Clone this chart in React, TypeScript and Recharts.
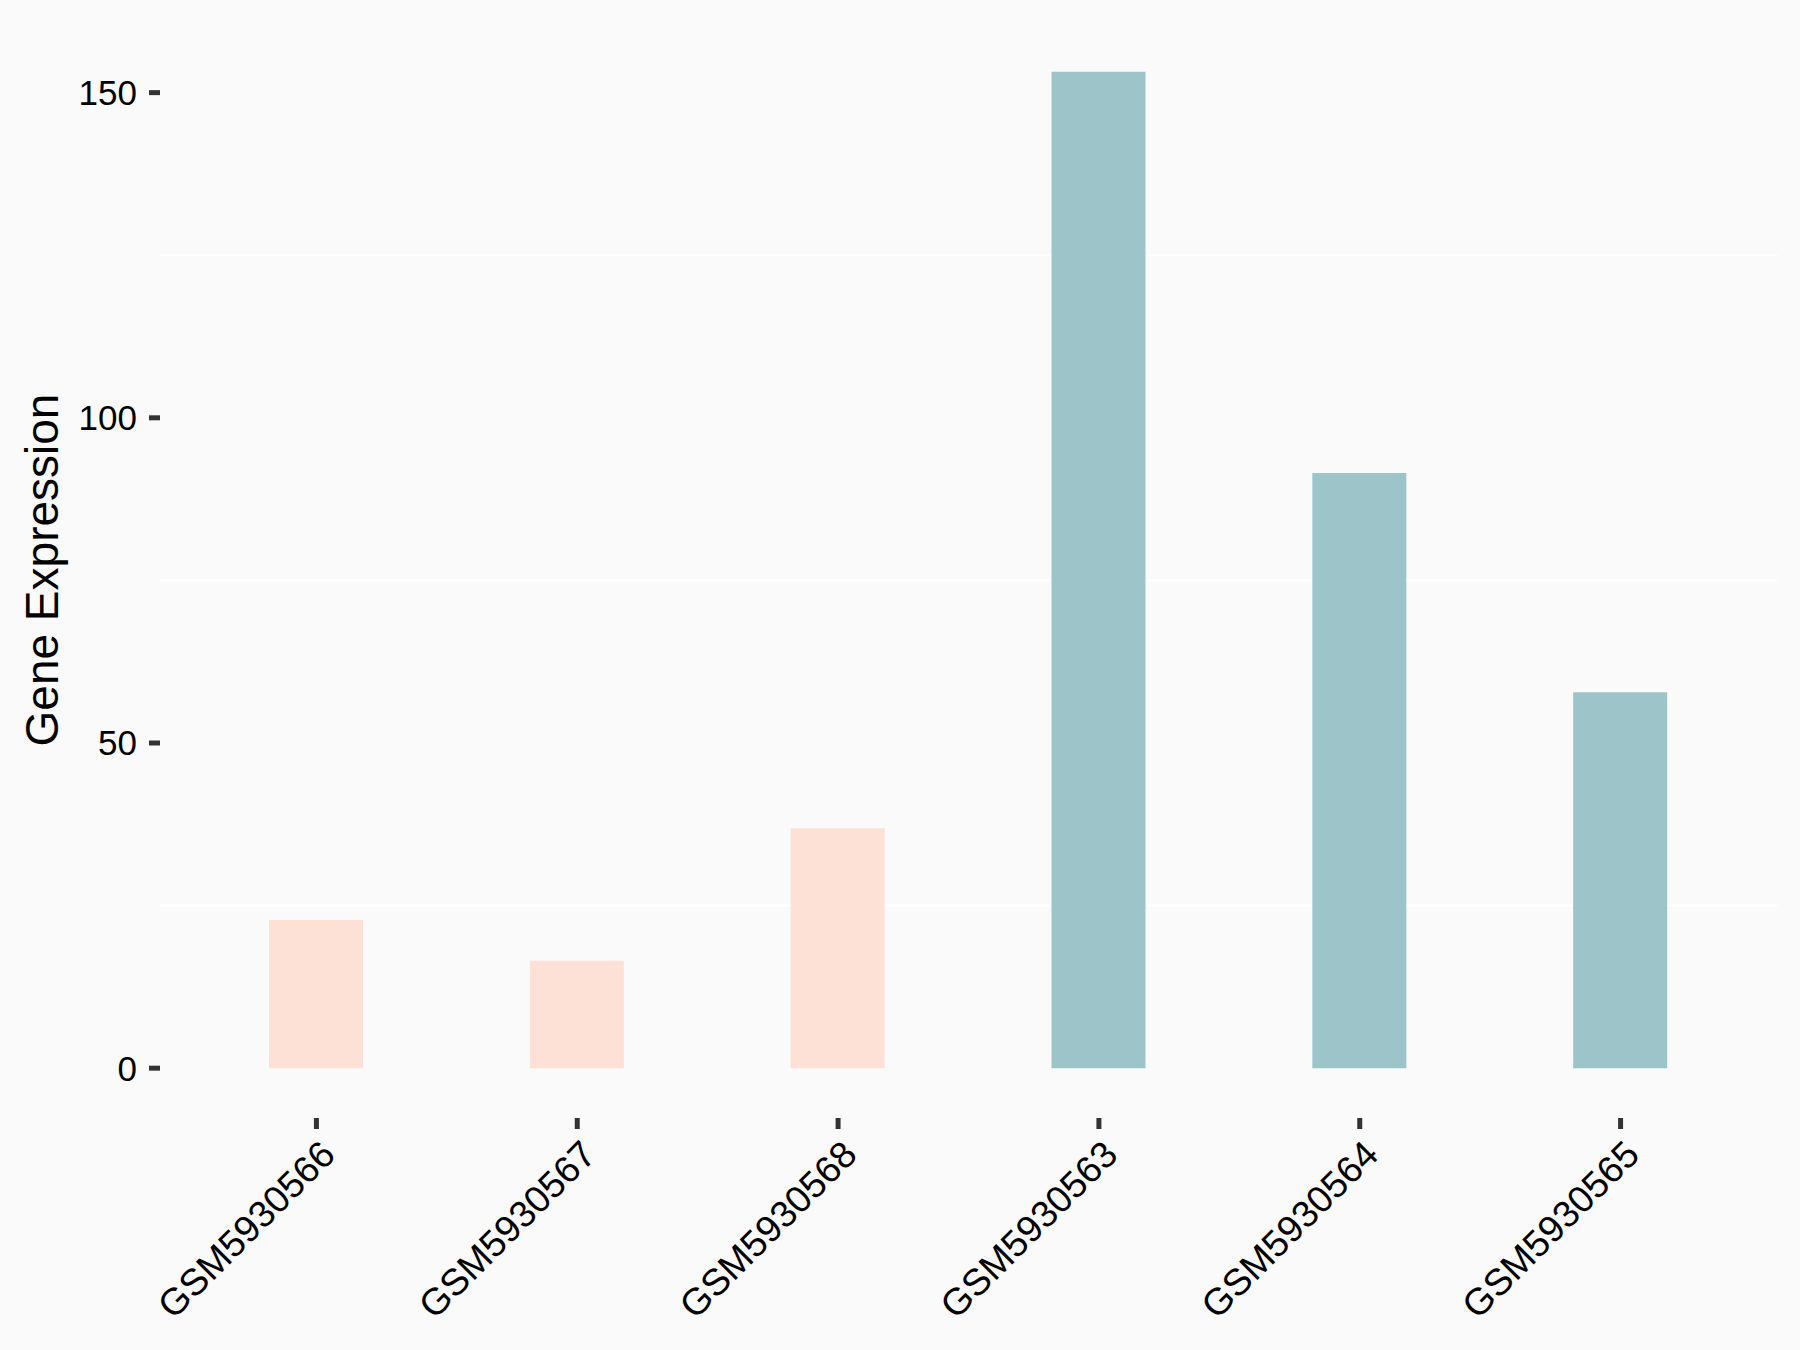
import { BarChart, Bar, XAxis, YAxis, Cell, CartesianGrid } from "recharts";

const samples = ["GSM5930566", "GSM5930567", "GSM5930568", "GSM5930563", "GSM5930564", "GSM5930565"];
const expression = [22.8, 16.5, 36.9, 153.2, 91.5, 57.8];
const groups = ["a", "a", "a", "b", "b", "b"];
const yTicks = [0, 50, 100, 150];
const minorGrid = [25, 75, 125];

const groupColors: Record<string, string> = { a: "#FDE1D7", b: "#9DC4C8" };
const FONT = "'Liberation Sans', Arial, sans-serif";

const data = samples.map((s, i) => ({ sample: s, value: expression[i], group: groups[i] }));

function XTick(props: any) {
  const { x, y, payload } = props;
  return (
    <g transform={`translate(${x + 2},${y + 7})`}>
      <text
        transform="rotate(-45)"
        textAnchor="end"
        dy="0.71em"
        fontSize={37.5}
        fontFamily={FONT}
        fill="#000"
      >
        {payload.value}
      </text>
    </g>
  );
}

function YTitle(props: any) {
  const vb = props.viewBox || { y: 22, height: 1096 };
  const cy = vb.y + vb.height / 2;
  return (
    <text
      x={58}
      y={cy}
      transform={`rotate(-90, 58, ${cy})`}
      textAnchor="middle"
      fontSize={46}
      fontFamily={FONT}
      fill="#000"
    >
      Gene Expression
    </text>
  );
}

export default function App() {
  return (
    <div style={{ position: "absolute", left: 0, top: 0, width: 1800, height: 1350, background: "#FAFAFA" }}>
      <BarChart width={1800} height={1350} data={data} margin={{ top: 22, right: 23, left: 0, bottom: 0 }}>
        <CartesianGrid
          vertical={false}
          horizontalValues={minorGrid}
          stroke="#FFFFFF"
          strokeWidth={2}
        />
        <XAxis
          dataKey="sample"
          height={232}
          padding={{ left: 26, right: 26 }}
          axisLine={false}
          tickLine={{ stroke: "#333333", strokeWidth: 5 }}
          tickSize={11}
          tick={<XTick />}
          interval={0}
        />
        <YAxis
          width={160}
          domain={[-7.66, 160.86]}
          ticks={yTicks}
          axisLine={false}
          tickLine={{ stroke: "#333333", strokeWidth: 5 }}
          tickSize={11}
          tickMargin={12}
          tick={{ fontSize: 35, fontFamily: FONT, fill: "#000" }}
          label={{ content: (p: any) => <YTitle {...p} /> }}
          allowDataOverflow
        />
        <Bar dataKey="value" barSize={94} isAnimationActive={false}>
          {data.map((d) => (
            <Cell key={d.sample} fill={groupColors[d.group]} />
          ))}
        </Bar>
      </BarChart>
    </div>
  );
}
